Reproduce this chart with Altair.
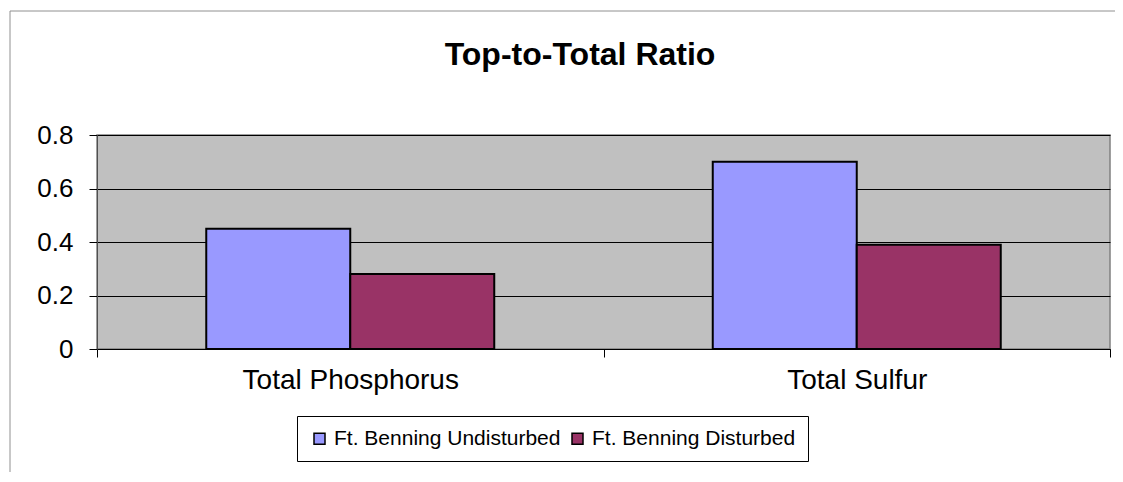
import altair as alt
import pandas as pd

chart_title = ["Top-to-Total Ratio"]
categories = ["Total Phosphorus", "Total Sulfur"]
series = ["Ft. Benning Undisturbed", "Ft. Benning Disturbed"]
undisturbed = [0.45, 0.70]
disturbed = [0.28, 0.39]
y_ticks = [0, 0.2, 0.4, 0.6, 0.8]
colors = ["#9999FF", "#993366"]

rows = []
for c, u, d in zip(categories, undisturbed, disturbed):
    rows.append({"category": c, "series": series[0], "value": u})
    rows.append({"category": c, "series": series[1], "value": d})
df = pd.DataFrame(rows)
title_df = pd.DataFrame({"title": chart_title})

FONT = "Liberation Sans"

bars = alt.Chart(df).mark_bar(stroke="black", strokeWidth=2).encode(
    x=alt.X("category:N", sort=categories, title=None,
            scale=alt.Scale(paddingInner=0, paddingOuter=0),
            axis=alt.Axis(labelAngle=0, labelFontSize=28, labelColor="black",
                          labelFont=FONT, domainColor="black", tickColor="black",
                          tickBand="extent", tickSize=8, labelPadding=9, grid=False,
                          labelLimit=0)),
    xOffset=alt.XOffset("series:N", sort=series,
                        scale=alt.Scale(paddingInner=0, paddingOuter=0.7587)),
    y=alt.Y("value:Q", title=None,
            scale=alt.Scale(domain=[0, 0.8], nice=False),
            axis=alt.Axis(values=y_ticks, labelFontSize=26, labelColor="black",
                          labelFont=FONT, domainColor="#505050", tickColor="black",
                          tickSize=8, labelPadding=16, grid=True, gridColor="black",
                          gridWidth=1, labelLimit=0,
                          labelExpr="datum.value == 0 ? '0' : format(datum.value, '.1f')")),
    color=alt.Color("series:N", sort=series,
                    scale=alt.Scale(domain=series, range=colors),
                    legend=alt.Legend(title=None, orient="none", direction="horizontal",
                                      legendX=200, legendY=281,
                                      labelFontSize=21, labelFont=FONT, labelColor="black",
                                      labelLimit=0,
                                      symbolType="square", symbolSize=121,
                                      symbolStrokeColor="black", symbolStrokeWidth=1.5,
                                      symbolOpacity=1,
                                      strokeColor="black", fillColor="white",
                                      padding=12, columnPadding=6, labelOffset=4)),
)

title_layer = alt.Chart(title_df).mark_text(
    font=FONT, fontSize=32, fontWeight="bold", color="black",
    align="center", baseline="alphabetic"
).encode(text="title:N", x=alt.value(483), y=alt.value(-70))

frame_top = alt.Chart(title_df).mark_rule(color="#909090", strokeWidth=1).encode(
    x=alt.value(-87), x2=alt.value(1040), y=alt.value(-124)
)
frame_left = alt.Chart(title_df).mark_rule(color="#909090", strokeWidth=1).encode(
    x=alt.value(-87), y=alt.value(-124), y2=alt.value(337)
)

chart = alt.layer(bars, title_layer, frame_top, frame_left).properties(
    width=1013, height=214,
    autosize=alt.AutoSizeParams(type="none"),
    padding={"left": 89, "top": 127, "right": 5, "bottom": 130},
).configure_view(fill="#C0C0C0", stroke="#808080", strokeWidth=1.5)

chart.save("out.html", embed_options={"renderer": "svg", "actions": False})
